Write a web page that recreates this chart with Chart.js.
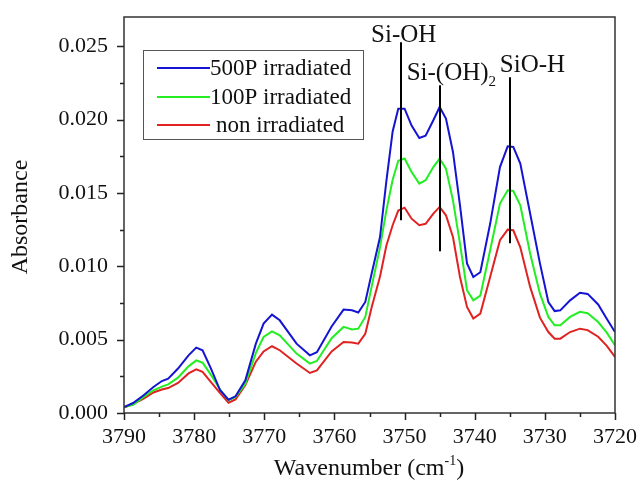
<!DOCTYPE html>
<html>
<head>
<meta charset="utf-8">
<script src="https://cdn.jsdelivr.net/npm/chart.js@4"></script>
<style>
html,body{margin:0;padding:0;background:#fff;}
#wrap{width:640px;height:492px;}
</style>
</head>
<body>
<div id="wrap"><canvas id="c" width="640" height="492"></canvas></div>
<script>
// ---- data ----
const wavenumbers = [3790,3788.7,3787.2,3785.8,3784.6,3783.7,3782.3,3780.8,3779.7,3778.8,3777.6,3776.3,3775.1,3774.1,3772.7,3771.2,3770.1,3768.9,3767.8,3765.4,3763.5,3762.5,3760.4,3758.7,3757.5,3756.6,3755.6,3754.7,3753.5,3752.6,3751.7,3750.9,3750.0,3749.0,3747.9,3747.0,3745.9,3745.0,3744.1,3743.1,3742.1,3741.1,3740.2,3739.2,3737.8,3736.4,3735.3,3734.5,3733.5,3732.1,3730.7,3729.5,3728.6,3727.8,3726.4,3725.0,3723.9,3722.4,3721.2,3720];
const series500P = [0.00041,0.00068,0.00121,0.00177,0.00218,0.00234,0.00303,0.00393,0.00446,0.00428,0.00303,0.00155,0.00091,0.00114,0.00223,0.00473,0.0061,0.00671,0.00632,0.00473,0.00393,0.00415,0.0059,0.00705,0.0070,0.00685,0.00757,0.0095,0.012,0.0158,0.0192,0.02075,0.02075,0.0196,0.01875,0.0189,0.01996,0.02086,0.02007,0.0178,0.01416,0.0102,0.00927,0.0096,0.0129,0.01677,0.01818,0.01814,0.017,0.0136,0.0102,0.00757,0.00695,0.0070,0.00768,0.0082,0.00812,0.0074,0.00644,0.00552];
const series100P = [0.00041,0.00055,0.0011,0.00155,0.0018,0.00195,0.00241,0.00318,0.00359,0.00343,0.0026,0.0016,0.00087,0.0011,0.002,0.0041,0.00518,0.00557,0.0053,0.00405,0.00337,0.00355,0.0051,0.00587,0.0057,0.00575,0.00655,0.0086,0.0113,0.0138,0.0159,0.0172,0.01735,0.01643,0.01564,0.01587,0.01677,0.01735,0.01666,0.0145,0.01155,0.00837,0.00768,0.008,0.0111,0.01428,0.01518,0.01514,0.01416,0.01087,0.00814,0.00655,0.00598,0.00598,0.00655,0.0069,0.0068,0.0062,0.0055,0.00462];
const seriesNon = [0.00037,0.0006,0.00098,0.0014,0.0016,0.0017,0.00205,0.0027,0.00298,0.0028,0.00211,0.00136,0.0007,0.00092,0.0019,0.0035,0.0042,0.00455,0.00428,0.00337,0.00273,0.00291,0.0042,0.00484,0.0048,0.00473,0.0054,0.0072,0.0093,0.0114,0.0128,0.0138,0.0140,0.01325,0.0128,0.0129,0.0136,0.01405,0.01348,0.012,0.00927,0.00723,0.00644,0.00678,0.00927,0.01178,0.0125,0.01246,0.0113,0.0086,0.0065,0.00552,0.00507,0.00507,0.00552,0.00575,0.00565,0.0052,0.0046,0.00382];
const seriesLabels = ['500P irradiated','100P irradiated','non irradiated'];
const xTicks = [3790,3780,3770,3760,3750,3740,3730,3720];
const yTicks = [0.000,0.005,0.010,0.015,0.020,0.025];
// peak markers
const peakLabels = ['Si-OH','Si-(OH)','SiO-H'];
const peakSubs = ['','2',''];
const peakWavenumbers = [3750.5,3745,3735];
const peakTop = [0.02527,0.02234,0.02289];
const peakBottom = [0.01314,0.01103,0.01157];

const colors = ['#1414d2','#22ee22','#e02222'];
const SERIF = '"Liberation Serif", "Times New Roman", serif';

function pts(arr){ return wavenumbers.map((w,i)=>({x:w,y:arr[i]})); }

const decor = {
  id:'decor',
  afterDatasetsDraw(chart){
    const ctx = chart.ctx, xs = chart.scales.x, ys = chart.scales.y;
    ctx.save();
    // peak marker lines
    ctx.strokeStyle = '#000'; ctx.lineWidth = 2;
    peakWavenumbers.forEach((w,i)=>{
      const px = Math.round(xs.getPixelForValue(w));
      ctx.beginPath();
      ctx.moveTo(px, ys.getPixelForValue(peakTop[i]));
      ctx.lineTo(px, ys.getPixelForValue(peakBottom[i]));
      ctx.stroke();
    });
    // peak labels
    ctx.fillStyle = '#111';
    ctx.textBaseline = 'alphabetic';
    const offs = [[-30,0],[-33,-5],[-10,-5]];
    peakWavenumbers.forEach((w,i)=>{
      const px = xs.getPixelForValue(w), py = ys.getPixelForValue(peakTop[i]);
      ctx.font = '25px ' + SERIF;
      ctx.textAlign = 'left';
      const tx = px + offs[i][0], ty = py + offs[i][1];
      ctx.fillText(peakLabels[i], tx, ty);
      if (peakSubs[i]) {
        const wdt = ctx.measureText(peakLabels[i]).width;
        ctx.font = '15px ' + SERIF;
        ctx.fillText(peakSubs[i], tx + wdt, ty + 6);
      }
    });
    // legend
    const lx = 143, ly = 50, lw = 220, lh = 89;
    ctx.fillStyle = '#fff';
    ctx.fillRect(lx, ly, lw, lh);
    ctx.strokeStyle = '#555'; ctx.lineWidth = 1;
    ctx.strokeRect(lx+0.5, ly+0.5, lw, lh);
    const rows = [68,97,125];
    const textX = [210,210,216];
    chart.data.datasets.forEach((ds,i)=>{
      ctx.strokeStyle = ds.borderColor; ctx.lineWidth = 2;
      ctx.beginPath(); ctx.moveTo(157, rows[i]); ctx.lineTo(210, rows[i]); ctx.stroke();
      ctx.fillStyle = '#111';
      ctx.font = '23px ' + SERIF;
      ctx.textAlign = 'left'; ctx.textBaseline = 'middle';
      ctx.fillText(ds.label, textX[i], rows[i] + 1);
    });
    ctx.restore();
  },
  afterDraw(chart){
    const ctx = chart.ctx, xs = chart.scales.x, ys = chart.scales.y, a = chart.chartArea;
    ctx.save();
    // frame
    ctx.strokeStyle = '#333'; ctx.lineWidth = 1.5;
    ctx.strokeRect(a.left, a.top, a.right - a.left, a.bottom - a.top);
    // ticks
    ctx.strokeStyle = '#222'; ctx.lineWidth = 1.5;
    ctx.beginPath();
    for (let v = 3790; v >= 3720; v -= 5) {
      const px = Math.round(xs.getPixelForValue(v)) + 0.5;
      const major = (v % 10 === 0);
      ctx.moveTo(px, a.bottom); ctx.lineTo(px, a.bottom + (major ? 7 : 4));
    }
    for (let k = 0; k <= 10; k++) {
      const v = k * 0.0025;
      const py = Math.round(ys.getPixelForValue(v)) + 0.5;
      const major = (k % 2 === 0);
      ctx.moveTo(a.left, py); ctx.lineTo(a.left - (major ? 7 : 4), py);
    }
    ctx.stroke();
    // axis titles
    ctx.fillStyle = '#111';
    ctx.font = '24px ' + SERIF;
    ctx.textAlign = 'center'; ctx.textBaseline = 'middle';
    ctx.save();
    ctx.translate(21, 217);
    ctx.rotate(-Math.PI/2);
    ctx.fillText('Absorbance', 0, 0);
    ctx.restore();
    ctx.textBaseline = 'alphabetic';
    ctx.textAlign = 'left';
    const main1 = 'Wavenumber (cm', sup = '-1', close = ')';
    ctx.font = '24px ' + SERIF;
    const w1 = ctx.measureText(main1).width, w3 = ctx.measureText(close).width;
    ctx.font = '14px ' + SERIF;
    const w2 = ctx.measureText(sup).width;
    const total = w1 + w2 + w3;
    let sx = 369 - total/2;
    const base = 475;
    ctx.font = '24px ' + SERIF;
    ctx.fillText(main1, sx, base);
    ctx.font = '14px ' + SERIF;
    ctx.fillText(sup, sx + w1, base - 10);
    ctx.font = '24px ' + SERIF;
    ctx.fillText(close, sx + w1 + w2, base);
    ctx.restore();
  }
};

new Chart(document.getElementById('c'), {
  type: 'line',
  data: {
    datasets: [
      {label: seriesLabels[0], data: pts(series500P), borderColor: colors[0]},
      {label: seriesLabels[1], data: pts(series100P), borderColor: colors[1]},
      {label: seriesLabels[2], data: pts(seriesNon), borderColor: colors[2]}
    ].map(d => Object.assign(d, {borderWidth: 2, pointRadius: 0, tension: 0, fill: false}))
  },
  options: {
    responsive: false,
    animation: false,
    layout: {padding: {left: 0, top: 17, right: 25, bottom: 0}},
    plugins: {legend: {display: false}, tooltip: {enabled: false}},
    scales: {
      x: {
        type: 'linear', reverse: true, min: 3720, max: 3790,
        grid: {display: false, drawTicks: false},
        border: {display: false},
        afterFit(s){ s.height = 79; s.paddingLeft = 0; s.paddingRight = 0; },
        afterBuildTicks(s){ s.ticks = xTicks.map(v => ({value: v})); },
        ticks: {
          padding: 11, color: '#111', maxRotation: 0, autoSkip: false,
          font: {family: SERIF, size: 22},
          callback: v => String(v)
        }
      },
      y: {
        type: 'linear', min: 0, max: 0.027,
        grid: {display: false, drawTicks: false},
        border: {display: false},
        afterFit(s){ s.width = 124; s.paddingTop = 0; s.paddingBottom = 0; },
        afterBuildTicks(s){ s.ticks = yTicks.map(v => ({value: v})); },
        ticks: {
          padding: 16, color: '#111', autoSkip: false,
          font: {family: SERIF, size: 22},
          callback: v => Number(v).toFixed(3)
        }
      }
    }
  },
  plugins: [decor]
});
</script>
</body>
</html>
